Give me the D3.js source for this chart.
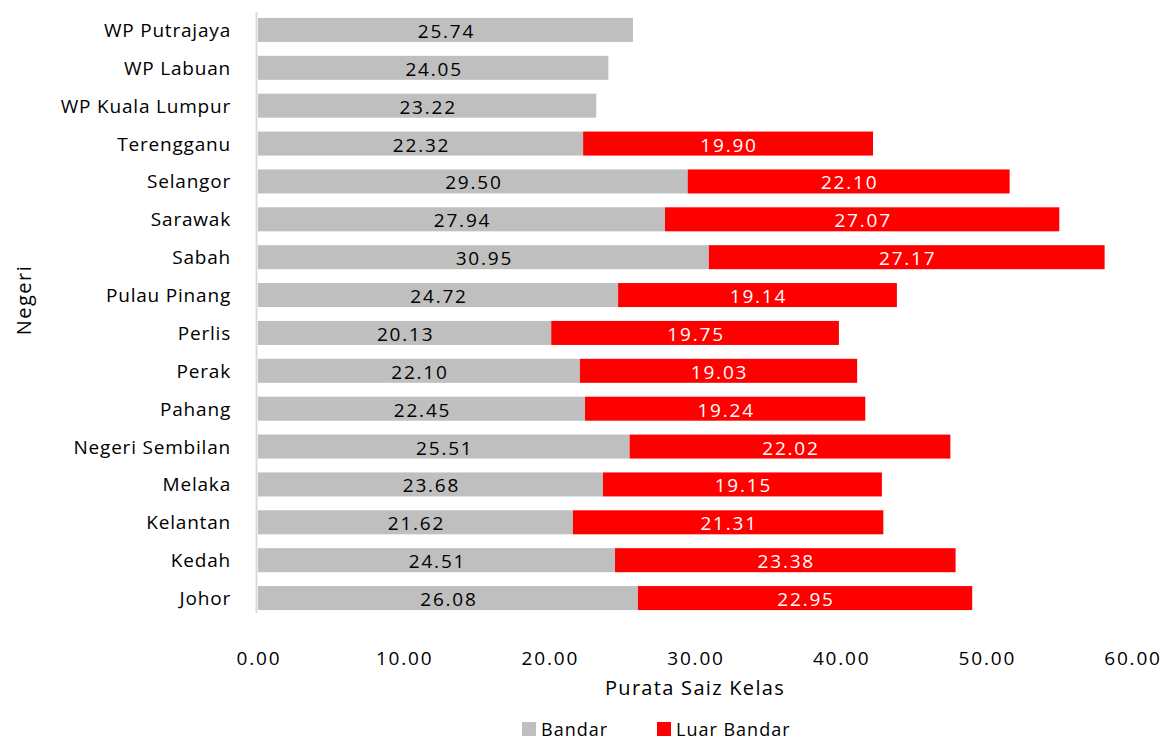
<!DOCTYPE html>
<html>
<head>
<meta charset="utf-8">
<script src="https://cdn.jsdelivr.net/npm/d3@7"></script>
<style>
  body { margin: 0; background: #fff; }
  text { font-family: "Open Sans", "Noto Sans", sans-serif; fill: #000; }
</style>
</head>
<body>
<div id="chart"></div>
<script>
// data, top to bottom as drawn
var negeri = ['WP Putrajaya', 'WP Labuan', 'WP Kuala Lumpur', 'Terengganu', 'Selangor', 'Sarawak', 'Sabah',
  'Pulau Pinang', 'Perlis', 'Perak', 'Pahang', 'Negeri Sembilan', 'Melaka', 'Kelantan', 'Kedah', 'Johor'];
var bandar = [25.74, 24.05, 23.22, 22.32, 29.50, 27.94, 30.95, 24.72, 20.13, 22.10, 22.45, 25.51, 23.68, 21.62, 24.51, 26.08];
var luarBandar = [null, null, null, 19.90, 22.10, 27.07, 27.17, 19.14, 19.75, 19.03, 19.24, 22.02, 19.15, 21.31, 23.38, 22.95];
var seriesNames = ['Bandar', 'Luar Bandar'];
var colors = ['#bfbfbf', '#ff0000'];
var xTicks = [0, 10, 20, 30, 40, 50, 60];

var w = 1168, h = 742;
var left = 258, innerW = 874;

var svg = d3.select('#chart').append('svg')
    .attr('width', w)
    .attr('height', h);
var g = svg.append('g')
    .attr('transform', 'translate(' + [left, 0] + ')');

var x = d3.scaleLinear().domain([0, 60]).range([0, innerW]);
var y = d3.scaleBand().domain(negeri).range([11, 617]).paddingInner(0.366).paddingOuter(0.183);
var fmt = d3.format('.2f');

// build stacked rows
var rows = negeri.map(function(n, i) {
  return {name: n, v: [bandar[i], luarBandar[i]]};
});

rows.forEach(function(r) {
  var start = 0;
  r.v.forEach(function(v, k) {
    if (v == null) return;
    g.append('rect')
      .attr('x', x(start))
      .attr('y', y(r.name))
      .attr('width', x(start + v) - x(start))
      .attr('height', y.bandwidth())
      .attr('fill', colors[k]);
    g.append('text')
      .attr('x', x(start + v / 2) + 1)
      .attr('y', y(r.name) + y.bandwidth() / 2 + 8)
      .attr('text-anchor', 'middle')
      .attr('font-size', '19px')
      .attr('letter-spacing', '1.8px')
      .style('fill', k === 0 ? '#000' : '#fff')
      .text(fmt(v));
    start += v;
  });
});

// vertical axis line
g.append('line')
  .attr('x1', -1.5).attr('x2', -1.5)
  .attr('y1', 12).attr('y2', 613)
  .attr('stroke', '#d9d9d9').attr('stroke-width', 2);

// category labels
g.selectAll('text.cat')
  .data(negeri).enter()
  .append('text')
  .attr('class', 'cat')
  .attr('x', -27)
  .attr('y', function(d) { return y(d) + y.bandwidth() / 2 + 7; })
  .attr('text-anchor', 'end')
  .attr('font-size', '19px')
  .attr('letter-spacing', '0.8px')
  .text(function(d) { return d; });

// x tick labels
g.selectAll('text.tick')
  .data(xTicks).enter()
  .append('text')
  .attr('class', 'tick')
  .attr('x', function(d) { return x(d) + 1; })
  .attr('y', 665)
  .attr('text-anchor', 'middle')
  .attr('font-size', '19px')
  .attr('letter-spacing', '1.8px')
  .text(function(d) { return fmt(d); });

// axis titles
svg.append('text')
  .attr('x', 695)
  .attr('y', 695)
  .attr('text-anchor', 'middle')
  .attr('font-size', '20px')
  .attr('letter-spacing', '1.3px')
  .text('Purata Saiz Kelas');

svg.append('text')
  .attr('transform', 'translate(31,300) rotate(-90)')
  .attr('text-anchor', 'middle')
  .attr('font-size', '20px')
  .attr('letter-spacing', '1.5px')
  .text('Negeri');

// legend
var legX = [522, 657];
seriesNames.forEach(function(s, i) {
  svg.append('rect')
    .attr('x', legX[i]).attr('y', 722)
    .attr('width', 14).attr('height', 14)
    .attr('fill', colors[i]);
  svg.append('text')
    .attr('x', legX[i] + 19).attr('y', 736)
    .attr('font-size', '18px')
    .attr('letter-spacing', '1px')
    .text(s);
});
</script>
</body>
</html>
